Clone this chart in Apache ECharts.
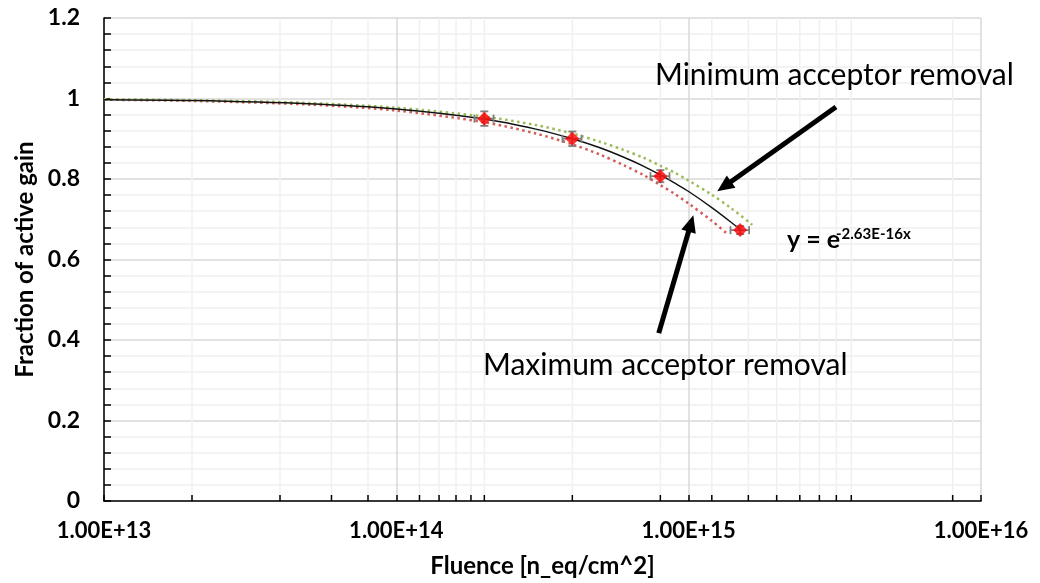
<!DOCTYPE html>
<html><head><meta charset="utf-8">
<script src="https://cdn.jsdelivr.net/npm/echarts@6/dist/echarts.min.js"></script>
<style>html,body{margin:0;padding:0;background:#fff}#c{width:1040px;height:583px}</style>
</head><body><div id="c"></div>
<script>
// Measured points
const fluence = [2e14, 4e14, 8e14, 1.5e15];
const gain = [0.95, 0.90, 0.807, 0.673];
const gainErr = [0.018, 0.018, 0.015, 0.010];
const fluenceErr = [1.5e13, 3e13, 6e13, 1.1e14];

// Exponential trend line
const fitX = [1e13, 2e13, 5e13, 1e14, 2e14, 3e14, 4e14, 5e14, 6e14, 7e14, 8e14, 9e14, 1e15, 1.2e15, 1.4e15, 1.5e15];
const fitY = [0.997, 0.995, 0.987, 0.974, 0.949, 0.924, 0.900, 0.877, 0.854, 0.832, 0.810, 0.789, 0.769, 0.729, 0.692, 0.674];
// Minimum acceptor removal (green dotted)
const minRemX = [1e13, 2e13, 5e13, 1e14, 2e14, 3e14, 4e14, 5e14, 6e14, 7e14, 8e14, 9e14, 1e15, 1.2e15, 1.4e15, 1.65e15];
const minRemY = [0.998, 0.996, 0.989, 0.977, 0.955, 0.934, 0.913, 0.892, 0.872, 0.853, 0.833, 0.815, 0.796, 0.761, 0.727, 0.686];
// Maximum acceptor removal (red dotted)
const maxRemX = [1e13, 2e13, 5e13, 1e14, 2e14, 3e14, 4e14, 5e14, 6e14, 7e14, 8e14, 9e14, 1e15, 1.2e15, 1.37e15];
const maxRemY = [0.997, 0.994, 0.985, 0.970, 0.941, 0.913, 0.886, 0.860, 0.834, 0.810, 0.785, 0.762, 0.739, 0.696, 0.661];

// Axes
const xMin = 1e13, xMax = 1e16;
const yMin = 0, yMax = 1.2, yStep = 0.2;
// minor vertical gridlines / ticks as seen in the picture
const xMinorGrid = [2e13, 4e13, 6e13, 8e13, 1.2e14, 1.4e14, 1.6e14, 1.8e14, 2e14, 4e14, 8e14,
                    1.2e15, 1.6e15, 2e15, 2.4e15, 2.8e15, 3.2e15, 3.6e15, 8e15];

// Texts
const xTitle = 'Fluence [n_eq/cm^2]';
const yTitle = 'Fraction of active gain';
const formulaBase = 'y = e';
const formulaExp = '-2.63E-16x';
const noteMin = 'Minimum acceptor removal';
const noteMax = 'Maximum acceptor removal';
// Arrow annotations in data coordinates [tail, head]
const arrowMin = [[3.19e15, 0.979], [1.323e15, 0.7815]];
const arrowMax = [[7.9e14, 0.417], [1.018e15, 0.6895]];

const FONT = 'Lato';
const chart = echarts.init(document.getElementById('c'), null, {renderer: 'canvas'});

function sci(v) {
  const e = Math.floor(Math.log10(v) + 1e-9);
  const m = v / Math.pow(10, e);
  return m.toFixed(2) + 'E+' + e;
}

const option = {
  backgroundColor: '#fff',
  animation: false,
  grid: {left: 104, right: 59, top: 18, bottom: 82, containLabel: false},
  xAxis: {
    type: 'log', logBase: 10, min: xMin, max: xMax,
    name: xTitle, nameLocation: 'middle', nameGap: 53,
    nameTextStyle: {fontFamily: FONT, fontWeight: 'bold', fontSize: 24, color: '#000'},
    axisLine: {show: true, lineStyle: {color: '#000', width: 1.5}},
    axisTick: {show: true, inside: true, length: 6, lineStyle: {color: '#000', width: 1.5}},
    axisLabel: {formatter: sci, fontFamily: FONT, fontWeight: 'bold', fontSize: 22, color: '#000', margin: 19, showMinLabel: true, showMaxLabel: true},
    splitLine: {show: true, lineStyle: {color: '#d9d9d9', width: 1.5}},
    minorTick: {show: false}, minorSplitLine: {show: false}
  },
  yAxis: {
    type: 'value', min: yMin, max: yMax, interval: yStep,
    name: yTitle, nameLocation: 'middle', nameGap: 66, nameRotate: 90,
    nameTextStyle: {fontFamily: FONT, fontWeight: 'bold', fontSize: 24, color: '#000'},
    axisLine: {show: true, lineStyle: {color: '#000', width: 1.5}},
    axisTick: {show: true, inside: true, length: 7, lineStyle: {color: '#000', width: 1.5}},
    minorTick: {show: true, splitNumber: 5, length: 7, lineStyle: {color: '#000', width: 1.5}},
    axisLabel: {formatter: v => String(+v.toFixed(1)), fontFamily: FONT, fontWeight: 'bold', fontSize: 23, color: '#000', margin: 24},
    splitLine: {show: true, lineStyle: {color: '#d9d9d9', width: 1.5}},
    minorSplitLine: {show: true, lineStyle: {color: '#f0f0f0', width: 1.5}}
  },
  series: [
    {
      type: 'custom', name: 'minorgrid', silent: true, z: 0,
      data: xMinorGrid.map(v => [v]),
      renderItem: (params, api) => {
        const v = api.value(0);
        const p0 = api.coord([v, yMin]), p1 = api.coord([v, yMax]);
        return {type: 'group', children: [
          {type: 'line', shape: {x1: p0[0], y1: p0[1], x2: p1[0], y2: p1[1]}, style: {stroke: '#f0f0f0', lineWidth: 1.5}},
          {type: 'line', shape: {x1: p0[0], y1: p0[1], x2: p0[0], y2: p0[1] - 6}, style: {stroke: '#000', lineWidth: 1.5}}
        ]};
      }
    },
    {
      type: 'line', name: 'max', data: maxRemX.map((x, i) => [x, maxRemY[i]]),
      showSymbol: false, smooth: 0.3, z: 3, silent: true,
      lineStyle: {color: '#D25C58', width: 2.5, type: [2.5, 3.5]}
    },
    {
      type: 'line', name: 'min', data: minRemX.map((x, i) => [x, minRemY[i]]),
      showSymbol: false, smooth: 0.3, z: 3, silent: true,
      lineStyle: {color: '#9BBB59', width: 2.5, type: [2.5, 3.5]}
    },
    {
      type: 'line', name: 'fit', data: fitX.map((x, i) => [x, fitY[i]]),
      showSymbol: false, smooth: 0.3, z: 4, silent: true,
      lineStyle: {color: '#111', width: 1.4},
      markLine: {
        silent: true, symbol: ['none', 'triangle'], symbolSize: [15, 17], animation: false,
        label: {show: false},
        lineStyle: {color: '#000', width: 5, type: 'solid'},
        emphasis: {disabled: true},
        data: [
          [{coord: arrowMin[0]}, {coord: arrowMin[1]}],
          [{coord: arrowMax[0]}, {coord: arrowMax[1]}]
        ]
      }
    },
    {
      type: 'custom', name: 'errors', z: 5, silent: true,
      data: fluence.map((x, i) => [x, gain[i], fluenceErr[i], gainErr[i]]),
      renderItem: (params, api) => {
        const x = api.value(0), y = api.value(1), ex = api.value(2), ey = api.value(3);
        const t = api.coord([x, y + ey]), b = api.coord([x, y - ey]);
        const l = api.coord([x - ex, y]), r = api.coord([x + ex, y]);
        const cap = 4, st = {stroke: '#7f7f7f', lineWidth: 1.8};
        return {type: 'group', children: [
          {type: 'line', shape: {x1: t[0], y1: t[1], x2: b[0], y2: b[1]}, style: st},
          {type: 'line', shape: {x1: t[0] - cap, y1: t[1], x2: t[0] + cap, y2: t[1]}, style: st},
          {type: 'line', shape: {x1: b[0] - cap, y1: b[1], x2: b[0] + cap, y2: b[1]}, style: st},
          {type: 'line', shape: {x1: l[0], y1: l[1], x2: r[0], y2: r[1]}, style: st},
          {type: 'line', shape: {x1: l[0], y1: l[1] - cap, x2: l[0], y2: l[1] + cap}, style: st},
          {type: 'line', shape: {x1: r[0], y1: r[1] - cap, x2: r[0], y2: r[1] + cap}, style: st}
        ]};
      }
    },
    {
      type: 'scatter', name: 'data', z: 6, silent: true,
      data: fluence.map((x, i) => [x, gain[i]]),
      symbol: 'diamond', symbolSize: 14,
      itemStyle: {color: '#FF0000'}
    }
  ],
  graphic: [
    {type: 'text', left: 655, top: 60, z: 100, silent: true,
      style: {text: noteMin, fontFamily: FONT, fontSize: 30, fill: '#000'}},
    {type: 'text', left: 483, top: 350, z: 100, silent: true,
      style: {text: noteMax, fontFamily: FONT, fontSize: 30, fill: '#000'}},
    {type: 'text', left: 787, top: 227, z: 100, silent: true,
      style: {text: formulaBase, fontFamily: FONT, fontWeight: 'bold', fontSize: 25, fill: '#000'}},
    {type: 'text', left: 836, top: 227, z: 100, silent: true,
      style: {text: formulaExp, fontFamily: FONT, fontWeight: 'bold', fontSize: 15, fill: '#000'}}
  ]
};
chart.setOption(option);
</script>
</body></html>
